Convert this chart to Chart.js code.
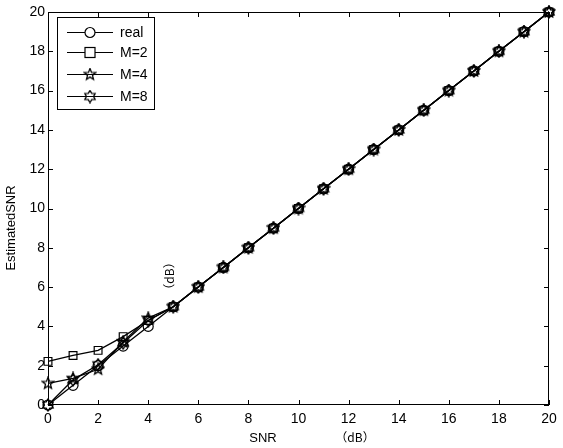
<!DOCTYPE html>
<html><head><meta charset="utf-8">
<script src="https://cdn.jsdelivr.net/npm/chart.js@4/dist/chart.umd.min.js"></script>
<style>html,body{margin:0;padding:0;background:#fff;}#wrap{width:563px;height:448px;}</style>
</head><body><div id="wrap"><canvas id="c" width="563" height="448"></canvas></div>
<script>
const snr = [0,1,2,3,4,5,6,7,8,9,10,11,12,13,14,15,16,17,18,19,20];
const realVals = [0,1,2,3,4,5,6,7,8,9,10,11,12,13,14,15,16,17,18,19,20];
const m2Vals = [2.22,2.52,2.78,3.48,4.3,5,6,7,8,9,10,11,12,13,14,15,16,17,18,19,20];
const m4Vals = [1.1,1.35,1.82,3.22,4.42,5,6,7,8,9,10,11,12,13,14,15,16,17,18,19,20];
const m8Vals = [0,1.28,2.05,3.15,4.3,5,6,7,8,9,10,11,12,13,14,15,16,17,18,19,20];
const seriesNames = ['real','M=2','M=4','M=8'];
const xTicks = [0,2,4,6,8,10,12,14,16,18,20];
const yTicks = [0,2,4,6,8,10,12,14,16,18,20];

function starCanvas(points, rOut, rIn){
  const s = 14, c = document.createElement('canvas');
  c.width = s; c.height = s;
  const g = c.getContext('2d');
  g.beginPath();
  for(let i=0;i<points*2;i++){
    const r = i%2===0 ? rOut : rIn;
    const a = -Math.PI/2 + i*Math.PI/points;
    const x = s/2 + r*Math.cos(a), y = s/2 + r*Math.sin(a);
    if(i===0) g.moveTo(x,y); else g.lineTo(x,y);
  }
  g.closePath();
  g.strokeStyle='#000'; g.lineWidth=1.3; g.stroke();
  return c;
}
const pent = starCanvas(5,6,2.6);
const hexa = starCanvas(6,6,3.6);
const styles = ['circle','rect',pent,hexa];
const radii = [5,5.5,6,6];

const toPts = v => snr.map((x,i)=>({x:x,y:v[i]}));
const allVals = [realVals,m2Vals,m4Vals,m8Vals];

const datasets = allVals.map((v,i)=>({
  label: seriesNames[i], data: toPts(v),
  borderColor:'#000', backgroundColor:'rgba(0,0,0,0)', borderWidth:1.3,
  pointStyle: styles[i], pointRadius: radii[i], pointBorderColor:'#000',
  pointBorderWidth:1.2, pointBackgroundColor:'rgba(0,0,0,0)', clip:false, tension:0
}));

const deco = {
  id:'deco',
  afterDraw(chart){
    const g = chart.ctx, a = chart.chartArea;
    const xs = chart.scales.x, ys = chart.scales.y;
    g.save();
    g.strokeStyle='#000'; g.lineWidth=1;
    g.strokeRect(a.left+0.5,a.top+0.5,a.right-a.left-1,a.bottom-a.top-1);
    g.beginPath();
    xTicks.forEach(t=>{
      const p = Math.round(xs.getPixelForValue(t))+0.5;
      g.moveTo(p,a.bottom); g.lineTo(p,a.bottom-5);
      g.moveTo(p,a.top); g.lineTo(p,a.top+5);
    });
    yTicks.forEach(t=>{
      const p = Math.round(ys.getPixelForValue(t))+0.5;
      g.moveTo(a.left,p); g.lineTo(a.left+5,p);
      g.moveTo(a.right,p); g.lineTo(a.right-5,p);
    });
    g.stroke();
    // legend
    const lx=57, ly=17, lw=97, lh=92;
    g.fillStyle='#fff'; g.fillRect(lx,ly,lw,lh);
    g.strokeRect(lx+0.5,ly+0.5,lw,lh);
    const rows=[32,52,74,96];
    seriesNames.forEach((n,i)=>{
      const y=rows[i]+0.5;
      g.lineWidth=1.2;
      g.beginPath(); g.moveTo(67,y); g.lineTo(113,y); g.stroke();
      const cx=90;
      if(i===0){ g.beginPath(); g.arc(cx,y,5,0,Math.PI*2); g.fillStyle='#fff'; g.fill(); g.stroke(); }
      else if(i===1){ g.fillStyle='#fff'; g.fillRect(cx-5,y-5,10,10); g.strokeRect(cx-5,y-5,10,10); }
      else { g.drawImage(styles[i], cx-7, y-7); }
      g.fillStyle='#000'; g.font='14px "Liberation Sans", Arial, sans-serif';
      g.textAlign='left'; g.textBaseline='middle';
      g.fillText(n,120,y+1);
    });
    // axis titles
    g.fillStyle='#000';
    g.font='13px "Liberation Sans", Arial, sans-serif';
    g.textAlign='center'; g.textBaseline='middle';
    g.fillText('SNR',263,438);
    g.font='12px "Noto Sans CJK SC", sans-serif';
    g.fillText('（dB）',355,437);
    g.setTransform(0,-1,1,0,11,228);
    g.font='13px "Liberation Sans", Arial, sans-serif';
    g.fillText('EstimatedSNR',0,0);
    g.setTransform(0,-1,1,0,169,276);
    g.font='12px "Noto Sans CJK SC", sans-serif';
    g.fillText('（dB）',0,0);
    g.setTransform(1,0,0,1,0,0);
    g.restore();
  }
};

new Chart(document.getElementById('c'),{
  type:'line',
  data:{datasets},
  options:{
    responsive:false, animation:false, devicePixelRatio:1,
    layout:{padding:{top:12,right:14,left:0,bottom:0}},
    plugins:{legend:{display:false},tooltip:{enabled:false}},
    scales:{
      x:{type:'linear',min:0,max:20,
        afterBuildTicks(s){ s.ticks = xTicks.map(v=>({value:v})); },
        afterFit(s){ s.height=43; },
        grid:{display:false,drawTicks:false}, border:{display:false},
        ticks:{padding:6,color:'#000',font:{family:'"Liberation Sans", Arial, sans-serif',size:14},maxRotation:0,autoSkip:false}},
      y:{type:'linear',min:0,max:20,
        afterBuildTicks(s){ s.ticks = yTicks.map(v=>({value:v})); },
        afterFit(s){ s.width=48; },
        grid:{display:false,drawTicks:false}, border:{display:false},
        ticks:{padding:3,color:'#000',font:{family:'"Liberation Sans", Arial, sans-serif',size:14},autoSkip:false}}
    }
  },
  plugins:[deco]
});
</script></body></html>
